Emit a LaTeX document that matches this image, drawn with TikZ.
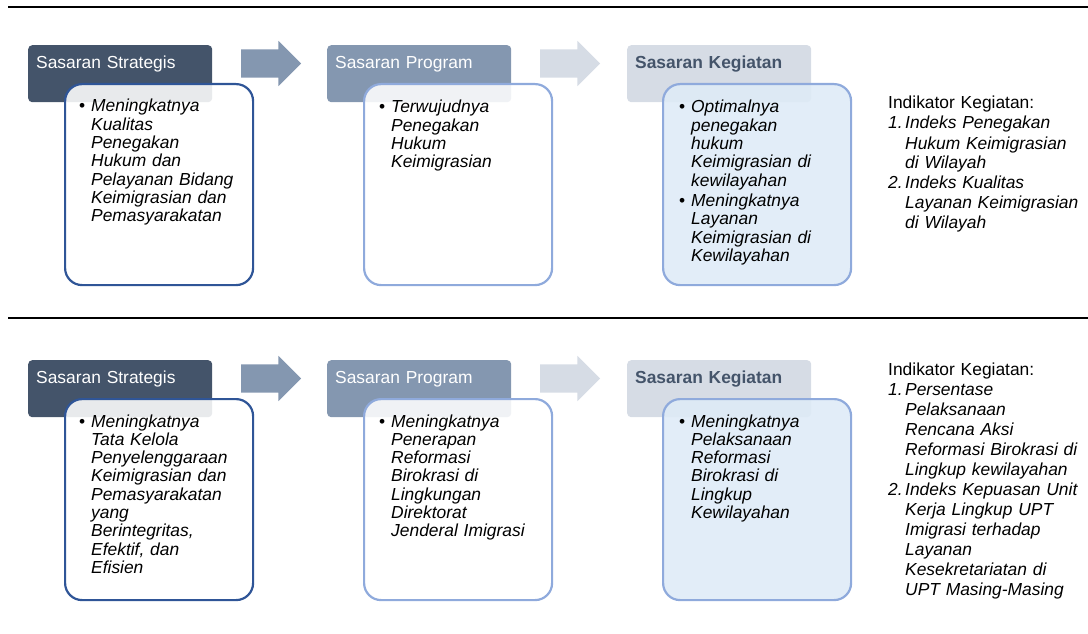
\documentclass[tikz,border=0pt]{standalone}
\usepackage{fontspec}
\setmainfont{Liberation Sans}
\usetikzlibrary{shapes.arrows,positioning,calc}
\definecolor{darkslate}{HTML}{44546A}
\definecolor{midslate}{HTML}{8497B0}
\definecolor{lightslate}{HTML}{D6DCE5}
\definecolor{darkblue}{HTML}{2F5597}
\definecolor{softblue}{HTML}{8FAADC}
\definecolor{paleblue}{HTML}{DEEBF7}
\newcommand{\itembul}{\makebox[12pt][l]{\upshape\textbullet}}
\newcommand{\itempad}{\hspace*{12pt}}
\newcommand{\itemnum}[1]{\makebox[17pt][l]{#1}}
\newcommand{\numpad}{\hspace*{17pt}}
\tikzset{
	hdr/.style={rounded corners=4pt, anchor=north west, inner xsep=8pt, inner ysep=0pt, text width=168pt, align=left, text height=23pt, text depth=34pt, font=\fontsize{17.4}{20}\selectfont},
	cbox/.style={rounded corners=17pt, line width=2.2pt, fill=white, fill opacity=0.88, anchor=north west, minimum width=188pt, minimum height=201pt, inner sep=0pt},
	ctext/.style={anchor=base west, inner sep=0pt, text width=175pt, align=left, font=\fontsize{17.4}{18.3}\selectfont\itshape},
	itext/.style={anchor=base west, inner sep=0pt, text width=196pt, align=left, font=\fontsize{17.4}{20}\selectfont},
	blockarrow/.style={single arrow, minimum height=60pt, minimum width=45pt, single arrow head extend=8.5pt, single arrow tip angle=90, inner xsep=0pt, inner ysep=14pt, draw=none}
}
\begin{document}
\begin{tikzpicture}[x=1pt, y=-1pt]
\useasboundingbox (0,0) rectangle (1088,634);

	% first row
	\draw[line width=1.2pt] (8,7) -- (1088,7);
	\node[hdr, fill=darkslate, text=white] (hs1) at (28,45) {Sasaran Strategis};
	\node[hdr, fill=midslate, text=white] (hp1) at (327,45) {Sasaran Program};
	\node[hdr, fill=lightslate, text=darkslate, font=\fontsize{17.4}{20}\selectfont\bfseries] (hk1) at (627,45) {Sasaran Kegiatan};
	\node[blockarrow, fill=midslate] (ar1) at (264,63.5) {};
	\node[blockarrow, fill=lightslate] (ar2) at (563,63.5) {};
	
	\node[cbox, draw=darkblue] (bs1) at (64,83) {};
	\node[cbox, draw=softblue] (bp1) at (363,83) {};
	\node[cbox, draw=softblue, fill=paleblue] (bk1) at (662,83) {};
	
	\node[ctext] (ts1) at (79,112) {\itembul Meningkatnya\\ \itempad Kualitas\\ \itempad Penegakan\\ \itempad Hukum dan\\ \itempad Pelayanan Bidang\\ \itempad Keimigrasian dan\\ \itempad Pemasyarakatan};
	\node[ctext] (tp1) at (379,113) {\itembul Terwujudnya\\ \itempad Penegakan\\ \itempad Hukum\\ \itempad Keimigrasian};
	\node[ctext] (tk1) at (679,113) {\itembul Optimalnya\\ \itempad penegakan\\ \itempad hukum\\ \itempad Keimigrasian di\\ \itempad kewilayahan\\[2pt] \itembul Meningkatnya\\ \itempad Layanan\\ \itempad Keimigrasian di\\ \itempad Kewilayahan};
	
	\node[itext] (ind1) at (888,109) {Indikator Kegiatan:\\ \itemnum{\textit{1.}}\textit{Indeks Penegakan}\\ \numpad\textit{Hukum Keimigrasian}\\ \numpad\textit{di Wilayah}\\ \itemnum{\textit{2.}}\textit{Indeks Kualitas}\\ \numpad\textit{Layanan Keimigrasian}\\ \numpad\textit{di Wilayah}};
	
	% second row
	\draw[line width=1.2pt] (8,318) -- (1088,318);
	\node[hdr, fill=darkslate, text=white] (hs2) at (28,360) {Sasaran Strategis};
	\node[hdr, fill=midslate, text=white] (hp2) at (327,360) {Sasaran Program};
	\node[hdr, fill=lightslate, text=darkslate, font=\fontsize{17.4}{20}\selectfont\bfseries] (hk2) at (627,360) {Sasaran Kegiatan};
	\node[blockarrow, fill=midslate] (ar3) at (264,378.5) {};
	\node[blockarrow, fill=lightslate] (ar4) at (563,378.5) {};
	
	\node[cbox, draw=darkblue] (bs2) at (64,398) {};
	\node[cbox, draw=softblue] (bp2) at (363,398) {};
	\node[cbox, draw=softblue, fill=paleblue] (bk2) at (662,398) {};
	
	\node[ctext] (ts2) at (79,427) {\itembul Meningkatnya\\ \itempad Tata Kelola\\ \itempad Penyelenggaraan\\ \itempad Keimigrasian dan\\ \itempad Pemasyarakatan\\ \itempad yang\\ \itempad Berintegritas,\\ \itempad Efektif, dan\\ \itempad Efisien};
	\node[ctext] (tp2) at (379,427) {\itembul Meningkatnya\\ \itempad Penerapan\\ \itempad Reformasi\\ \itempad Birokrasi di\\ \itempad Lingkungan\\ \itempad Direktorat\\ \itempad Jenderal Imigrasi};
	\node[ctext] (tk2) at (679,427) {\itembul Meningkatnya\\ \itempad Pelaksanaan\\ \itempad Reformasi\\ \itempad Birokrasi di\\ \itempad Lingkup\\ \itempad Kewilayahan};
	
	\node[itext] (ind2) at (888,375) {Indikator Kegiatan:\\ \itemnum{\textit{1.}}\textit{Persentase}\\ \numpad\textit{Pelaksanaan}\\ \numpad\textit{Rencana Aksi}\\ \numpad\textit{Reformasi Birokrasi di}\\ \numpad\textit{Lingkup kewilayahan}\\ \itemnum{\textit{2.}}\textit{Indeks Kepuasan Unit}\\ \numpad\textit{Kerja Lingkup UPT}\\ \numpad\textit{Imigrasi terhadap}\\ \numpad\textit{Layanan}\\ \numpad\textit{Kesekretariatan di}\\ \numpad\textit{UPT Masing-Masing}};
\end{tikzpicture}
\end{document}
